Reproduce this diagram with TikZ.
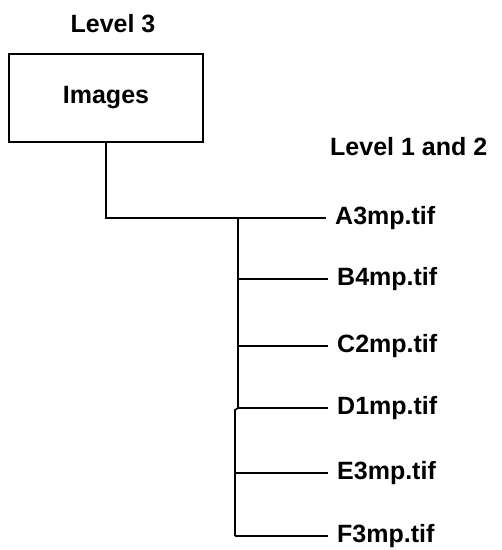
\documentclass[tikz,border=0pt]{standalone}
\usepackage{fontspec}
\setmainfont{Liberation Sans}
\usetikzlibrary{positioning}

\begin{document}
\begin{tikzpicture}[
  x=1pt, y=-1pt,
  font=\fontsize{25}{30}\selectfont\bfseries,
  lvl/.style={inner sep=0pt},
  dir/.style={draw, line width=1.6pt, rectangle, minimum width=194pt,
              minimum height=88pt, inner sep=0pt},
  leaf/.style={anchor=west, inner ysep=0pt, inner xsep=9pt},
  wire/.style={line width=1.6pt, black}
]
  \useasboundingbox (0,0) rectangle (502,550);

  \node[lvl] (lvlthree) at (113,24) {Level 3};
  \node[dir] (images) at (106,98) {Images};
  \node[lvl, anchor=west] (lvlone) at (330,147) {Level 1 and 2};

  \node[leaf] (fa) at (326,218) {A3mp.tif};
  \node[leaf] (fb) at (328,279) {B4mp.tif};
  \node[leaf] (fc) at (328,346) {C2mp.tif};
  \node[leaf] (fd) at (328,408) {D1mp.tif};
  \node[leaf] (fe) at (328,473) {E3mp.tif};
  \node[leaf] (ff) at (328,536) {F3mp.tif};

  %% trunk points
  \coordinate (top) at (238,218);
  \coordinate (mid) at (238,408);
  \coordinate (midl) at (235,410);
  \coordinate (bot) at (235,536);

  %% Images -> trunk
  \draw[wire] (images.south) |- (top);

  %% trunk, with the small jog at D
  \draw[wire] (top) -- (mid) -- (midl) -- (bot);

  %% branches to the files
  \draw[wire] (top) -- (fa.west);
  \draw[wire] (fb.west -| top) -- (fb.west);
  \draw[wire] (fc.west -| top) -- (fc.west);
  \draw[wire] (fd.west -| top) -- (fd.west);
  \draw[wire] (fe.west -| bot) -- (fe.west);
  \draw[wire] (bot) -- (ff.west);
\end{tikzpicture}
\end{document}
